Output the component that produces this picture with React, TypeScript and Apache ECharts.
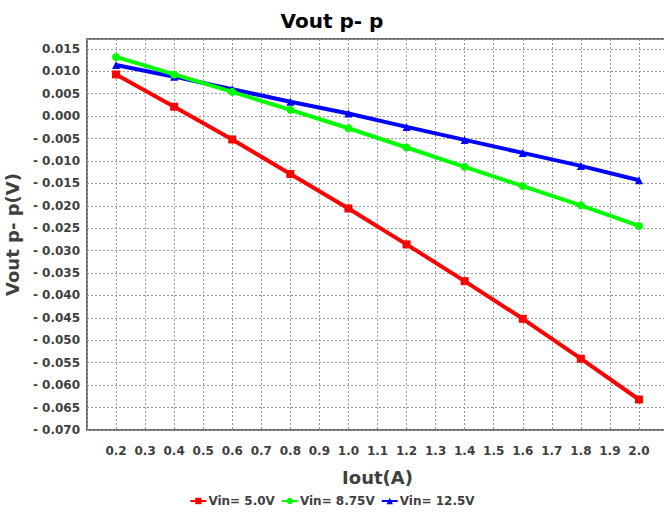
import React, { useEffect, useRef } from "react";
import * as echarts from "echarts";

const iout = [0.2, 0.4, 0.6, 0.8, 1.0, 1.2, 1.4, 1.6, 1.8, 2.0];
const vin50 = [0.0093, 0.0021, -0.0052, -0.0129, -0.0206, -0.0286, -0.0368, -0.0452, -0.0541, -0.0632];
const vin875 = [0.0132, 0.0093, 0.0054, 0.0014, -0.0027, -0.007, -0.0113, -0.0156, -0.0199, -0.0245];
const vin125 = [0.0114, 0.0088, 0.006, 0.0032, 0.0006, -0.0024, -0.0053, -0.0082, -0.0111, -0.0143];
const seriesNames = ["Vin= 5.0V", "Vin= 8.75V", "Vin= 12.5V"];

const FONT = "DejaVu Sans";
const TEXT = "#404040";

export default function App() {
  const ref = useRef<HTMLDivElement>(null);
  useEffect(() => {
    if (!ref.current) return;
    const chart = echarts.init(ref.current, null, { renderer: "svg" });
    const pairs = (ys: number[]) => iout.map((x, i) => [x, ys[i]]);
    chart.setOption({
      animation: false,
      backgroundColor: "#fff",
      title: {
        text: "Vout p- p",
        left: "center",
        top: 6,
        textStyle: { fontFamily: FONT, fontWeight: "bold", fontSize: 20, color: "#000" },
      },
      legend: {
        bottom: 2,
        left: "center",
        itemWidth: 16,
        itemHeight: 8,
        itemGap: 6,
        textStyle: { fontFamily: FONT, fontWeight: "bold", fontSize: 12, color: TEXT, padding: [0, 0, 0, -3] },
        data: seriesNames,
      },
      grid: {
        left: 87,
        top: 39,
        width: 581,
        height: 391,
        outerBoundsMode: "none",
        containLabel: false,
        show: true,
        borderColor: "#6e6e6e",
        borderWidth: 2,
        backgroundColor: "transparent",
      },
      xAxis: {
        type: "value",
        min: 0.1,
        max: 2.1,
        interval: 0.1,
        name: "Iout(A)",
        nameLocation: "middle",
        nameGap: 38,
        nameTextStyle: { fontFamily: FONT, fontWeight: "bold", fontSize: 18, color: TEXT },
        axisLine: { show: false },
        axisTick: { show: false },
        axisLabel: {
          margin: 15,
          fontFamily: FONT,
          fontWeight: "bold",
          fontSize: 12,
          color: TEXT,
          formatter: (v: number) => (v < 0.15 || v > 2.05 ? "" : v.toFixed(1)),
        },
        splitLine: { show: true, lineStyle: { color: "#9a9a9a", type: [2, 2], width: 1 } },
      },
      yAxis: {
        type: "value",
        min: -0.07,
        max: 0.0172,
        interval: 0.005,
        name: "Vout p- p(V)",
        nameLocation: "middle",
        nameGap: 62,
        nameTextStyle: { fontFamily: FONT, fontWeight: "bold", fontSize: 18, color: TEXT },
        axisLine: { show: false },
        axisTick: { show: false },
        axisLabel: {
          margin: 7,
          fontFamily: FONT,
          fontWeight: "bold",
          fontSize: 12,
          color: TEXT,
          formatter: (v: number) => {
            if (Math.abs(v * 200 - Math.round(v * 200)) > 1e-6) return "";
            const r = Math.round(v * 1000) / 1000;
            if (Math.abs(r) < 1e-9) return "0.000";
            return r < 0 ? "- " + (-r).toFixed(3) : r.toFixed(3);
          },
        },
        splitLine: { show: true, lineStyle: { color: "#9a9a9a", type: [2, 2], width: 1 } },
      },
      series: [
        {
          name: seriesNames[0],
          type: "line",
          data: pairs(vin50),
          symbol: "rect",
          symbolSize: 8,
          z: 3,
          itemStyle: { color: "#ff0000" },
          lineStyle: { color: "#ff0000", width: 4 },
        },
        {
          name: seriesNames[1],
          type: "line",
          data: pairs(vin875),
          symbol: "circle",
          symbolSize: 8,
          z: 4,
          itemStyle: { color: "#00ff00" },
          lineStyle: { color: "#00ff00", width: 4 },
        },
        {
          name: seriesNames[2],
          type: "line",
          data: pairs(vin125),
          symbol: "triangle",
          symbolSize: 8,
          z: 2,
          itemStyle: { color: "#0000ff" },
          lineStyle: { color: "#0000ff", width: 4 },
        },
      ],
    });
    return () => chart.dispose();
  }, []);
  return (
    <div
      ref={ref}
      style={{ position: "absolute", left: 0, top: 0, width: 664, height: 514, background: "#fff" }}
    />
  );
}
